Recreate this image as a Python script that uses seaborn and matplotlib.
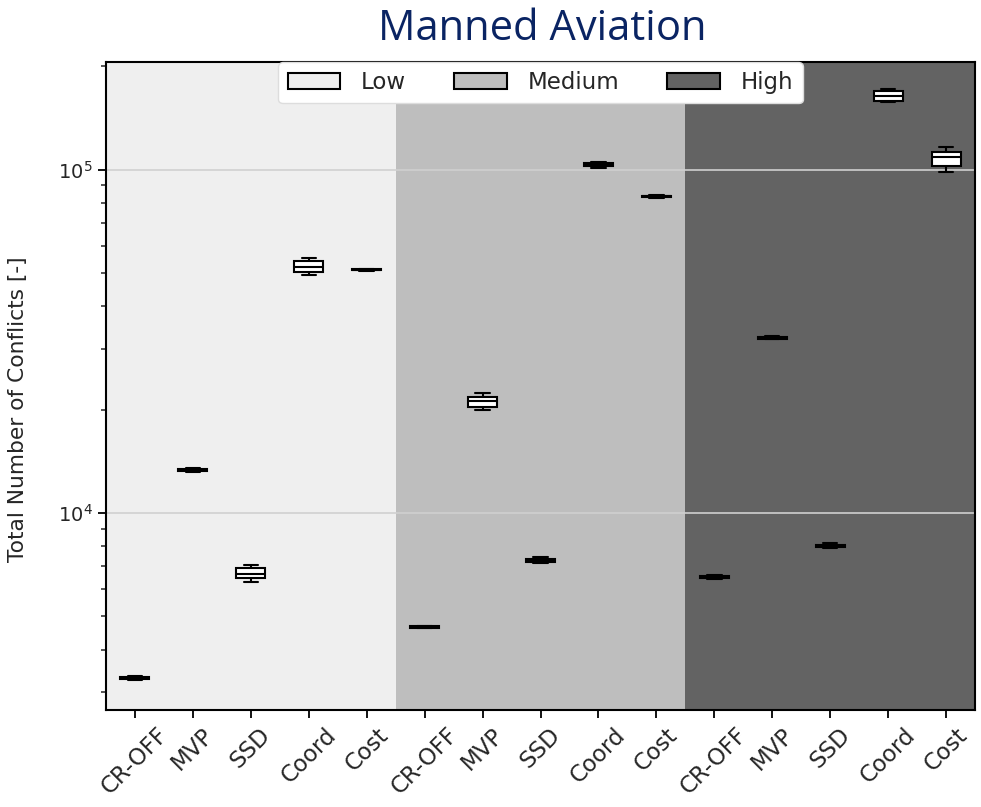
import numpy as np
import pandas as pd
import matplotlib
matplotlib.use("Agg")
import matplotlib.pyplot as plt
import seaborn as sns
from matplotlib.patches import Patch

# ---- data (five-number summaries) ----
groups = ["Low", "Medium", "High"]
methods = ["CR-OFF", "MVP", "SSD", "Coord", "Cost"]
whislo = [3260, 13150, 6290, 49400, 50700,
          4610, 19970, 7150, 101000, 82900,
          6440, 32050, 7900, 157100, 98200]
q1 = [3280, 13230, 6460, 50430, 50900,
      4630, 20420, 7220, 102200, 83200,
      6480, 32200, 7960, 158400, 102700]
med = [3300, 13340, 6650, 52150, 51100,
       4650, 21210, 7290, 103200, 83600,
       6520, 32400, 8030, 164400, 108600]
q3 = [3320, 13450, 6910, 54300, 51300,
      4670, 21830, 7360, 104300, 84000,
      6560, 32550, 8090, 169100, 112300]
whishi = [3345, 13500, 7050, 55400, 51500,
          4700, 22420, 7420, 105500, 84300,
          6600, 32700, 8150, 171900, 116100]
bg_colors = ["#efefef", "#bebebe", "#636363"]

keys, rows = [], []
i = 0
for g in groups:
    for m in methods:
        k = f"{g}|{m}"
        keys.append(k)
        for v in (whislo[i], q1[i], med[i], q3[i], whishi[i]):
            rows.append({"key": k, "value": v})
        i += 1
df = pd.DataFrame(rows)

sns.set_style("ticks")
plt.rcParams["font.family"] = ["DejaVu Sans"]

fig = plt.figure(figsize=(9.81, 8.07), dpi=100)
ax = fig.add_axes([106/981, 1-710/807, (975-106)/981, (710-62)/807])
ax.set_yscale("log")

sns.boxplot(data=df, x="key", y="value", order=keys, width=0.5,
            color="white", linecolor="black", linewidth=1.5,
            showfliers=False, whis=1.5, saturation=1, ax=ax)

for j, c in enumerate(bg_colors):
    ax.axvspan(j*5 - 0.5, j*5 + 4.5, color=c, zorder=0.1, lw=0)

ax.set_xlim(-0.5, 14.5)
ax.set_ylim(2667, 206000)
ax.set_axisbelow(True)
ax.yaxis.grid(True, which="major", color="#d0d0d0", lw=1.2, zorder=0.5)
ax.xaxis.grid(False)

ax.set_xticks(range(len(keys)))
ax.set_xticklabels(methods * 3, rotation=45, ha="center", fontsize=16.5)
ax.tick_params(axis="both", which="major", direction="out", length=6, width=1.3,
               color="black")
ax.tick_params(axis="y", which="major", labelsize=14)
ax.tick_params(axis="y", which="minor", direction="out", length=3.5, width=1.1)
ax.set_xlabel("")
ax.set_ylabel("Total Number of Conflicts [-]", fontsize=15.7)
ax.yaxis.set_label_coords(-0.09, 0.4645)
for s in ax.spines.values():
    s.set_visible(True)
    s.set_color("black")
    s.set_linewidth(1.5)

handles = [Patch(facecolor=c, edgecolor="black", lw=1.5, label=g)
           for g, c in zip(groups, bg_colors)]
leg = ax.legend(handles=handles, loc="upper center", bbox_to_anchor=(0.5, 1.0),
                ncol=3, fontsize=16.5, frameon=True, fancybox=True, framealpha=1,
                borderaxespad=0, handlelength=2.3, handletextpad=0.9,
                columnspacing=2.1, edgecolor="#dddddd")

fig.text(542/981, 1-29/807, "Manned Aviation", ha="center", va="center",
         fontsize=30, color="#0a2463", family=["Open Sans", "DejaVu Sans"])

fig.savefig("out.png", dpi=100)
